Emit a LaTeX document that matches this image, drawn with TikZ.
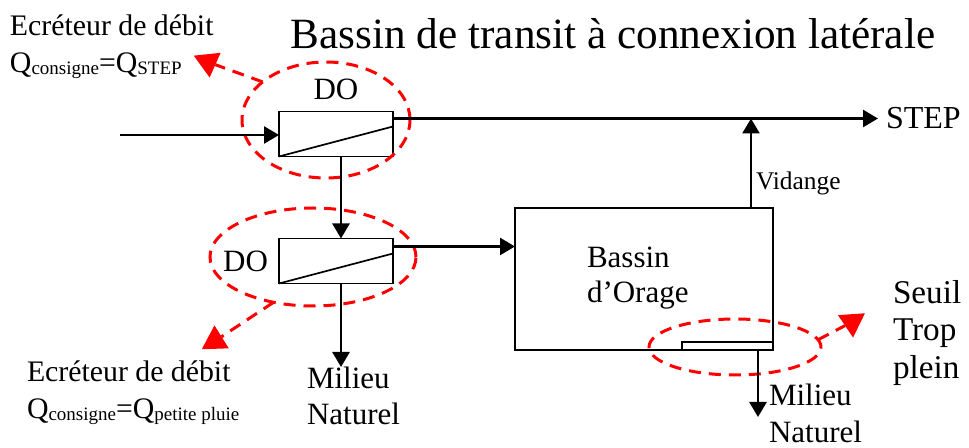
\documentclass[tikz,border=0pt]{standalone}
\usepackage{fontspec}
\setmainfont{Liberation Serif}
\usepackage{tikz}
\usetikzlibrary{shapes.geometric, arrows.meta, positioning}
\newcommand{\indice}[1]{\raisebox{-1pt}{\fontsize{9.5}{10}\selectfont #1}}
\tikzstyle{arrow} = [line width=1.3pt, -{Triangle[length=7.5pt,width=8.5pt]}]
\tikzstyle{renvoi} = [draw=red, dash pattern=on 6pt off 4pt, line width=1.5pt]

\begin{document}
\begin{tikzpicture}[x=0.5pt, y=-0.5pt,
  every node/.style={inner sep=0pt, outer sep=0pt},
  deversoir/.style={rectangle, draw=black, line width=0.85pt,
    minimum width=57pt, minimum height=22.5pt},
  ouvrage/.style={rectangle, draw=black, line width=0.85pt,
    minimum width=129pt, minimum height=71pt},
  zone/.style={ellipse, draw=red, dash pattern=on 6pt off 4pt, line width=1.5pt},
  pointe/.style={regular polygon, regular polygon sides=3, fill=red,
    minimum size=15.6pt},
  lbl/.style={font=\fontsize{15.5}{18}\selectfont, align=left},
  ecr/.style={font=\fontsize{14.9}{18.3}\selectfont, align=left}]

\useasboundingbox (0,0) rectangle (969,448);

\node (titre) [font=\fontsize{21.6}{26}\selectfont, anchor=base] at (613,49)
  {Bassin de transit à connexion latérale};

\node (do1) [deversoir] at (336,134) {};
\node (do2) [deversoir, below=41pt of do1] {};
\node (lbldo1) [lbl, above=6pt of do1] {DO};
\node (lbldo2) [lbl, left=5.5pt of do2] {DO};

\node (ell1) [zone, minimum width=84pt, minimum height=58pt] at (326,120) {};
\node (ell2) [zone, minimum width=103pt, minimum height=49pt] at (313,257) {};

\node (bassin) [ouvrage] at (644,279) {};
\node (txtbassin) [lbl, font=\fontsize{15.5}{17.5}\selectfont, anchor=north west]
  at (587,247) {Bassin\\d’Orage};
\node (seuil) [rectangle, draw=black, line width=0.85pt, minimum width=45.5pt,
  minimum height=4pt, anchor=south east] at (bassin.south east) {};
\node (ell3) [zone, minimum width=86pt, minimum height=28pt] at (735,347) {};

\node (tri1) [pointe, shape border rotate=186] at (208,62) {};
\node (tri2) [pointe, shape border rotate=2] at (215,341) {};
\node (tri3) [pointe, shape border rotate=184] at (852,322) {};

\node (ecr1) [ecr, anchor=north west] at (10,15)
  {Ecréteur de débit\\Q\indice{consigne}=Q\indice{STEP}};
\node (ecr2) [ecr, anchor=north west] at (27,361)
  {Ecréteur de débit\\Q\indice{consigne}=Q\indice{petite pluie}};
\node (milieu1) [lbl, anchor=north west] at (307,367) {Milieu\\Naturel};
\node (milieu2) [lbl, font=\fontsize{15.5}{18.5}\selectfont, anchor=north west]
  at (769,384) {Milieu\\Naturel};
\node (seuiltxt) [lbl, font=\fontsize{16.6}{18.75}\selectfont, anchor=north west]
  at (893,280) {Seuil\\Trop\\plein};
\node (step) [lbl, font=\fontsize{16}{19}\selectfont, anchor=west, inner sep=4pt]
  at (878,118.5) {STEP};
\node (lblvid) [font=\fontsize{12.7}{15}\selectfont, anchor=base west]
  at (756,190) {Vidange};

\coordinate (entree) at (120,135);
\coordinate (vid) at (751,118.5);
\coordinate (rejet) at (758,417);
\coordinate (axe) at ([xshift=2.5pt]do1.south);
\coordinate (chute) at ([xshift=2.5pt]do2.south);
\coordinate (sortie2) at ([yshift=-4pt]do2.north east);

\draw [line width=0.85pt] (do1.south west) -- ([yshift=15pt]do1.south east);
\draw [line width=0.85pt] (do2.south west) -- ([yshift=15pt]do2.south east);

\draw [arrow] (entree) -- (entree -| do1.west);
\draw [arrow] (do1.east |- step.west) -- (step.west);
\draw [arrow] (axe) -- (axe |- do2.north);
\draw [arrow] (sortie2) -- (sortie2 -| bassin.west);
\draw [arrow] (chute) -- (chute |- milieu1.north);
\draw [arrow] (bassin.north -| vid) -- (vid);
\draw [arrow] (bassin.south -| rejet) -- (rejet);

\draw [renvoi] (ell1.149) -- (tri1);
\draw [renvoi] (ell2.229) -- (tri2);
\draw [renvoi] (ell3.5) -- (tri3);

\end{tikzpicture}
\end{document}
